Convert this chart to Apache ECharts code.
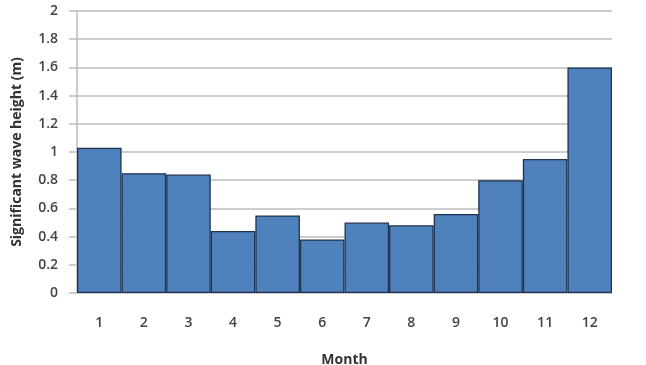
<!DOCTYPE html>
<html>
<head>
<meta charset="utf-8">
<script src="https://cdn.jsdelivr.net/npm/echarts@6/dist/echarts.min.js"></script>
<style>
  html, body { margin: 0; padding: 0; background: #fff; }
  #chart { width: 646px; height: 365px; }
</style>
</head>
<body>
<div id="chart"></div>
<script>
const months = ["1", "2", "3", "4", "5", "6", "7", "8", "9", "10", "11", "12"];
const waveHeight = [1.03, 0.85, 0.84, 0.44, 0.55, 0.38, 0.50, 0.48, 0.56, 0.80, 0.95, 1.60];

const chart = echarts.init(document.getElementById("chart"));
const font = "'Open Sans', 'DejaVu Sans', sans-serif";

chart.setOption({
  animation: false,
  grid: { left: 77, right: 34, top: 11, bottom: 72, outerBoundsMode: "none" },
  xAxis: {
    type: "category",
    data: months,
    name: "Month",
    nameLocation: "middle",
    nameGap: 60,
    nameTextStyle: { color: "#333", fontSize: 14, fontWeight: "bold", fontFamily: font },
    axisLine: { show: false },
    axisTick: { show: false },
    axisLabel: { color: "#444", fontSize: 14, fontWeight: 600, margin: 23, fontFamily: font },
  },
  yAxis: {
    type: "value",
    min: 0,
    max: 2,
    interval: 0.2,
    name: "Significant wave height (m)",
    nameLocation: "middle",
    nameGap: 53,
    nameTextStyle: { color: "#333", fontSize: 14, fontWeight: "bold", fontFamily: font },
    axisLine: { show: true, lineStyle: { color: "#bdbdbd", width: 1.5 } },
    axisTick: { show: true, length: 8, lineStyle: { color: "#bdbdbd", width: 1.5 } },
    axisLabel: {
      color: "#444",
      fontSize: 14,
      fontWeight: 600,
      margin: 19,
      fontFamily: font,
      formatter: (v) => String(Math.round(v * 10) / 10),
    },
    splitLine: { lineStyle: { color: "#bdbdbd", width: 1.5 } },
  },
  series: [
    {
      type: "bar",
      data: waveHeight,
      barCategoryGap: "0%",
      itemStyle: { color: "#4f81bd", borderColor: "#1d3350", borderWidth: 1.3 },
    },
  ],
});
</script>
</body>
</html>
